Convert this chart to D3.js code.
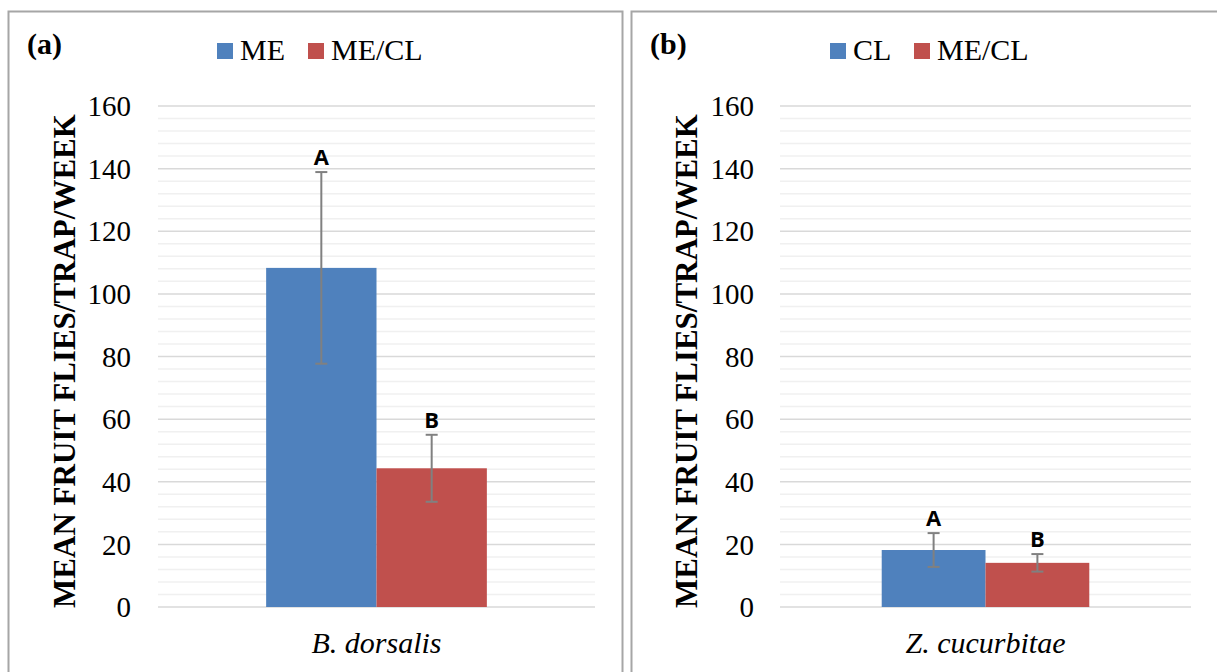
<!DOCTYPE html>
<html>
<head>
<meta charset="utf-8">
<script src="https://d3js.org/d3.v7.min.js"></script>
<style>
  body { margin: 0; background: #fff; }
  svg { display: block; }
  .serif { font-family: "Liberation Serif", "Times New Roman", Times, serif; }
</style>
</head>
<body>
<svg id="chart"></svg>
<script>
// data
var panelTags = ["(a)", "(b)"];
var species = ["B. dorsalis", "Z. cucurbitae"];
var seriesNames = [["ME", "ME/CL"], ["CL", "ME/CL"]];
var means = [[108.3, 44.3], [18.2, 14.1]];
var errors = [[30.6, 10.7], [5.4, 2.8]];
var letters = [["A", "B"], ["A", "B"]];
var yTicks = [0, 20, 40, 60, 80, 100, 120, 140, 160];

var colors = ["#4f81bd", "#c0504d"];
var width = 1217, height = 672;

var svg = d3.select("#chart").attr("width", width).attr("height", height);

// panel layout
var panels = [
  { x0: 8, x1: 622, plotL: 158, plotR: 595, tickX: 131, titleX: 75, tagX: 27, legX: 217, legGap: 91 },
  { x0: 631, x1: 1240, plotL: 780, plotR: 1191, tickX: 754, titleX: 697, tagX: 650, legX: 830, legGap: 84 }
];

var y = d3.scaleLinear().domain([0, 160]).range([607, 106]);

panels.forEach(function (p, i) {
  var g = svg.append("g");

  // frame
  g.append("rect")
    .attr("x", p.x0 + 0.5).attr("y", 11.5)
    .attr("width", p.x1 - p.x0).attr("height", 700)
    .attr("fill", "none").attr("stroke", "#a6a6a6").attr("stroke-width", 2);

  // minor grid
  g.selectAll(".minor").data(d3.range(0, 161, 4).filter(function (v) { return v % 20 !== 0; }))
    .enter().append("line")
    .attr("x1", p.plotL).attr("x2", p.plotR)
    .attr("y1", function (d) { return y(d); }).attr("y2", function (d) { return y(d); })
    .attr("stroke", "#f0f0f0").attr("stroke-width", 1.5);

  // major grid
  g.selectAll(".major").data(yTicks)
    .enter().append("line")
    .attr("x1", p.plotL).attr("x2", p.plotR)
    .attr("y1", function (d) { return y(d); }).attr("y2", function (d) { return y(d); })
    .attr("stroke", "#d9d9d9").attr("stroke-width", 1.5);

  // y ticks
  g.selectAll(".tick").data(yTicks)
    .enter().append("text")
    .attr("class", "serif")
    .attr("x", p.tickX).attr("y", function (d) { return y(d); })
    .attr("dy", "0.35em")
    .attr("text-anchor", "end")
    .style("font-size", "29px")
    .text(function (d) { return d; });

  // y title
  g.append("text")
    .attr("class", "serif")
    .attr("transform", "translate(" + p.titleX + "," + 361 + ")rotate(-90)")
    .attr("text-anchor", "middle")
    .style("font-weight", "bold")
    .style("font-size", "31px")
    .text("MEAN FRUIT FLIES/TRAP/WEEK");

  // panel tag
  g.append("text")
    .attr("class", "serif")
    .attr("x", p.tagX).attr("y", 54)
    .style("font-weight", "bold")
    .style("font-size", "30px")
    .text(panelTags[i]);

  // x scale
  var x0 = d3.scaleBand().domain([species[i]]).range([p.plotL, p.plotR]).paddingInner(0).paddingOuter(0.49);
  var x1 = d3.scaleBand().domain(seriesNames[i]).range([0, x0.bandwidth()]);

  var items = seriesNames[i].map(function (s, j) {
    return { name: s, mean: means[i][j], err: errors[i][j], letter: letters[i][j], color: colors[j] };
  });

  var bars = g.selectAll(".bar").data(items).enter().append("g")
    .attr("transform", function (d) { return "translate(" + (x0(species[i]) + x1(d.name)) + ",0)"; });

  bars.append("rect")
    .attr("x", 0).attr("width", x1.bandwidth())
    .attr("y", function (d) { return y(d.mean); })
    .attr("height", function (d) { return y(0) - y(d.mean); })
    .attr("fill", function (d) { return d.color; });

  var cx = x1.bandwidth() / 2;
  bars.append("line")
    .attr("x1", cx).attr("x2", cx)
    .attr("y1", function (d) { return y(d.mean + d.err); })
    .attr("y2", function (d) { return y(d.mean - d.err); })
    .attr("stroke", "#808080").attr("stroke-width", 2);
  bars.append("line")
    .attr("x1", cx - 6).attr("x2", cx + 6)
    .attr("y1", function (d) { return y(d.mean + d.err); })
    .attr("y2", function (d) { return y(d.mean + d.err); })
    .attr("stroke", "#808080").attr("stroke-width", 2);
  bars.append("line")
    .attr("x1", cx - 6).attr("x2", cx + 6)
    .attr("y1", function (d) { return y(d.mean - d.err); })
    .attr("y2", function (d) { return y(d.mean - d.err); })
    .attr("stroke", "#808080").attr("stroke-width", 2);

  bars.append("text")
    .attr("x", cx).attr("y", function (d) { return y(d.mean + d.err) - 7; })
    .attr("text-anchor", "middle")
    .style("font-family", "'Open Sans', 'DejaVu Sans', sans-serif")
    .style("font-weight", "bold")
    .style("font-size", "22px")
    .text(function (d) { return d.letter; });

  // x label
  g.append("text")
    .attr("class", "serif")
    .attr("x", x0(species[i]) + x0.bandwidth() / 2).attr("y", 653)
    .attr("text-anchor", "middle")
    .style("font-style", "italic")
    .style("font-size", "30px")
    .text(species[i]);

  // legend
  var leg = g.selectAll(".leg").data(seriesNames[i]).enter().append("g")
    .attr("transform", function (d, j) { return "translate(" + (p.legX + j * p.legGap) + ",43)"; });
  leg.append("rect").attr("width", 16).attr("height", 16)
    .attr("fill", function (d, j) { return colors[j]; });
  leg.append("text")
    .attr("class", "serif")
    .attr("x", 23).attr("y", 17)
    .style("font-size", "30px")
    .text(function (d) { return d; });
});
</script>
</body>
</html>
